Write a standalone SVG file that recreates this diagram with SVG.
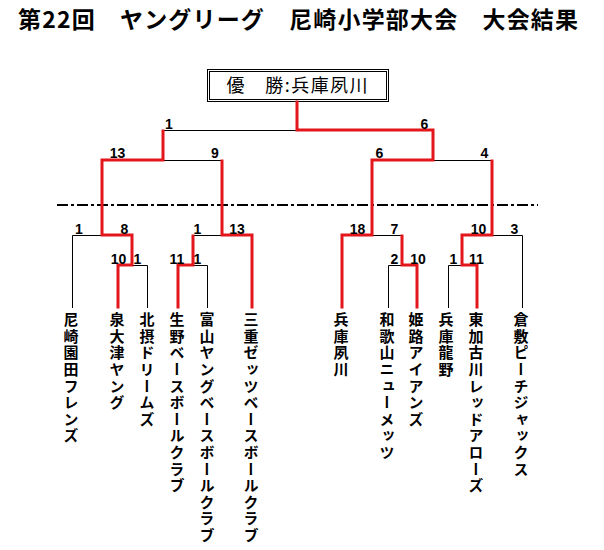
<svg xmlns="http://www.w3.org/2000/svg" width="604" height="550" viewBox="0 0 604 550">
<style>
.bk{fill:none;stroke:#000;stroke-width:1}
.rd{fill:none;stroke:#e3161c;stroke-width:3;stroke-linejoin:miter;stroke-linecap:square}
.sc{font-family:"Liberation Sans",Arial,sans-serif;font-size:14px;font-weight:bold;fill:#000;text-anchor:middle}
.tm{font-family:"Noto Sans CJK JP","Noto Sans CJK SC",sans-serif;font-size:15px;font-weight:bold;fill:#000;writing-mode:vertical-rl;letter-spacing:1.6px}
.jp{font-family:"Noto Sans CJK JP","Noto Sans CJK SC",sans-serif;fill:#000}
</style>
<rect width="604" height="550" fill="#fff"/>
<g id="title">
<text class="jp" x="18" y="28" font-size="23" font-weight="bold" textLength="560" lengthAdjust="spacing">第22回　ヤングリーグ　尼崎小学部大会　大会結果</text>
</g>
<g id="champion">
<rect x="207.5" y="69.5" width="181" height="32" fill="#fff" stroke="#000" stroke-width="1"/>
<rect x="209.5" y="71.5" width="177" height="28" fill="none" stroke="#000" stroke-width="1"/>
<text class="jp" x="226.5" y="92" font-size="18" textLength="141" lengthAdjust="spacing">優　勝:兵庫夙川</text>
</g>
<line id="divider" x1="57" y1="205" x2="538" y2="205" stroke="#000" stroke-width="2" stroke-dasharray="11 3 3 3"/>
<g id="connectors">
<path class="bk" d="M163,130.5H297M163,160.5H222M433,160.5H492M72.5,308V235.5H102M193,235.5H222M372,235.5H402M492,235.5H522.5V308M132,265.5H147.5V308M193,265.5H207.5V308M388.5,308V265.5H402M448.5,308V265.5H462"/>
<path class="rd" d="M297,102V130H433V160H372V235H342V307"/>
<path class="rd" d="M163,131V160H102V235H132V265H118V307"/>
<path class="rd" d="M222,161V235H252V307"/>
<path class="rd" d="M193,236V265H178V307"/>
<path class="rd" d="M402,236V265H417V307"/>
<path class="rd" d="M492,161V235H462V265H477V307"/>
</g>
<g id="scores">
<text class="sc" x="169" y="128.5">1</text>
<text class="sc" x="424.5" y="128.5">6</text>
<text class="sc" x="117.5" y="158">13</text>
<text class="sc" x="215" y="158">9</text>
<text class="sc" x="379.5" y="158">6</text>
<text class="sc" x="484.5" y="158">4</text>
<text class="sc" x="79" y="233.5">1</text>
<text class="sc" x="124.5" y="233.5">8</text>
<text class="sc" x="197.5" y="233.5">1</text>
<text class="sc" x="237" y="233.5">13</text>
<text class="sc" x="357.5" y="233.5">18</text>
<text class="sc" x="394.5" y="233.5">7</text>
<text class="sc" x="478.5" y="233.5">10</text>
<text class="sc" x="514.5" y="233.5">3</text>
<text class="sc" x="118.5" y="263.5">10</text>
<text class="sc" x="137.5" y="263.5">1</text>
<text class="sc" x="177" y="263.5">11</text>
<text class="sc" x="197.5" y="263.5">1</text>
<text class="sc" x="394.5" y="263.5">2</text>
<text class="sc" x="418" y="263.5">10</text>
<text class="sc" x="453.5" y="263.5">1</text>
<text class="sc" x="476.5" y="263.5">11</text>
</g>
<g id="team-amagasaki"><text class="tm" x="71" y="312">尼崎園田フレンズ</text></g>
<g id="team-izumiotsu"><text class="tm" x="117" y="312">泉大津ヤング</text></g>
<g id="team-hokusetsu"><text class="tm" x="147" y="312">北摂ドリームズ</text></g>
<g id="team-ikuno"><text class="tm" x="177" y="312">生野ベースボールクラブ</text></g>
<g id="team-tomiyama"><text class="tm" x="207" y="312">富山ヤングベースボールクラブ</text></g>
<g id="team-mie"><text class="tm" x="251" y="312">三重ゼッツベースボールクラブ</text></g>
<g id="team-hyogo-shukugawa"><text class="tm" x="341" y="312">兵庫夙川</text></g>
<g id="team-wakayama"><text class="tm" x="387" y="312">和歌山ニューメッツ</text></g>
<g id="team-himeji"><text class="tm" x="416" y="312">姫路アイアンズ</text></g>
<g id="team-hyogo-tatsuno"><text class="tm" x="446" y="312">兵庫龍野</text></g>
<g id="team-higashikakogawa"><text class="tm" x="476" y="312">東加古川レッドアローズ</text></g>
<g id="team-kurashiki"><text class="tm" x="521" y="312">倉敷ピーチジャックス</text></g>
</svg>
